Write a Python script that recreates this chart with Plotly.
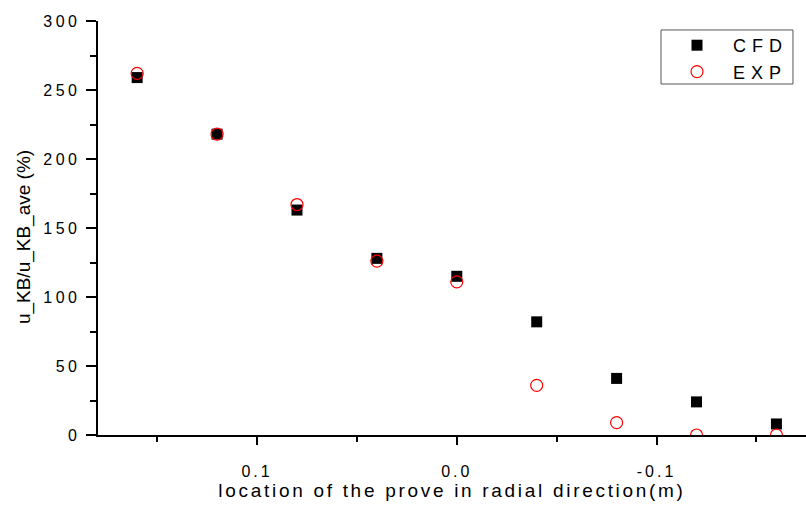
import plotly.graph_objects as go

# Data
x_pos = [0.16, 0.12, 0.08, 0.04, 0.0, -0.04, -0.08, -0.12, -0.16]
cfd = [259, 218, 163, 128, 115, 82, 41, 24, 8]
exp = [262, 218, 167, 126, 111, 36, 9, 0, 0]

x_tick_vals = [0.1, 0.0, -0.1]
x_tick_text = ["0.1", "0.0", "-0.1"]
x_minor_vals = [0.15, 0.05, -0.05, -0.15]
y_tick_vals = [0, 50, 100, 150, 200, 250, 300]

FONT = "Liberation Sans, Arial, sans-serif"

fig = go.Figure()
fig.add_trace(go.Scatter(
    x=x_pos, y=cfd, mode="markers", name="CFD",
    marker=dict(symbol="square", size=11, color="black", line=dict(width=0)),
))
fig.add_trace(go.Scatter(
    x=x_pos, y=exp, mode="markers", name="EXP",
    marker=dict(symbol="circle-open", size=12, color="red", line=dict(width=1.2, color="red")),
))

fig.update_layout(
    width=806, height=507,
    margin=dict(l=98, r=0, t=21, b=72),
    paper_bgcolor="white", plot_bgcolor="white",
    font=dict(family=FONT, color="black"),
    showlegend=True,
    legend=dict(
        x=0.7952, y=0.9855, xanchor="left", yanchor="top",
        borderwidth=0, bgcolor="rgba(0,0,0,0)",
        font=dict(size=18, family=FONT),
        itemwidth=62,
    ),
    shapes=[dict(type="rect", xref="paper", yref="paper",
                 x0=0.7952, x1=0.9816, y0=0.8478, y1=0.9783,
                 line=dict(color="#555555", width=1), fillcolor="rgba(0,0,0,0)")],
    annotations=[dict(text="u_KB/u_KB_ave (%)", xref="paper", yref="paper",
                      x=-0.1045, y=0.478, textangle=-90, showarrow=False,
                      xanchor="center", yanchor="middle",
                      font=dict(size=19, family=FONT, color="black"))],
)
fig.update_xaxes(
    range=[0.1796, -0.1748],
    showline=True, linecolor="black", linewidth=1.5,
    showgrid=False, zeroline=False,
    tickmode="array", tickvals=x_tick_vals, ticktext=x_tick_text,
    ticks="outside", ticklen=8, tickwidth=1.5, tickcolor="black",
    minor=dict(tickmode="array", tickvals=x_minor_vals, ticks="outside", ticklen=5, tickwidth=1.5, tickcolor="black"),
    tickfont=dict(size=16, family=FONT),
    ticklabelstandoff=13,
    title=dict(text="location of the prove in radial direction(m)", font=dict(size=19, family=FONT), standoff=0),
)
fig.update_yaxes(
    range=[0, 300],
    showline=True, linecolor="black", linewidth=1.5,
    showgrid=False, zeroline=False,
    tickmode="array", tickvals=y_tick_vals,
    ticks="outside", ticklen=10, tickwidth=1.5, tickcolor="black",
    minor=dict(dtick=25, ticks="outside", ticklen=6, tickwidth=1.5, tickcolor="black"),
    tickfont=dict(size=16, family=FONT),
    ticklabelstandoff=5,
)

post = """
var gd = document.getElementById('{plot_id}');
function sp(sel, v){ gd.querySelectorAll(sel).forEach(function(e){ e.style.letterSpacing = v; }); }
sp('.xtick text', '3px');
sp('.ytick text', '3.5px');
sp('.g-xtitle text', '2.7px');
sp('.legendtext', '6px');
gd.querySelectorAll('.legend [clip-path]').forEach(function(e){ e.removeAttribute('clip-path'); });
var gr = gd.getBoundingClientRect();
gd.querySelectorAll('.ytick text').forEach(function(e){
  var r = e.getBoundingClientRect();
  var shift = (80.5 + gr.left) - r.right;
  var x0 = parseFloat(e.getAttribute('x')) || 0;
  e.setAttribute('x', x0 + shift);
});
"""

fig.write_html("out.html", post_script=post)
